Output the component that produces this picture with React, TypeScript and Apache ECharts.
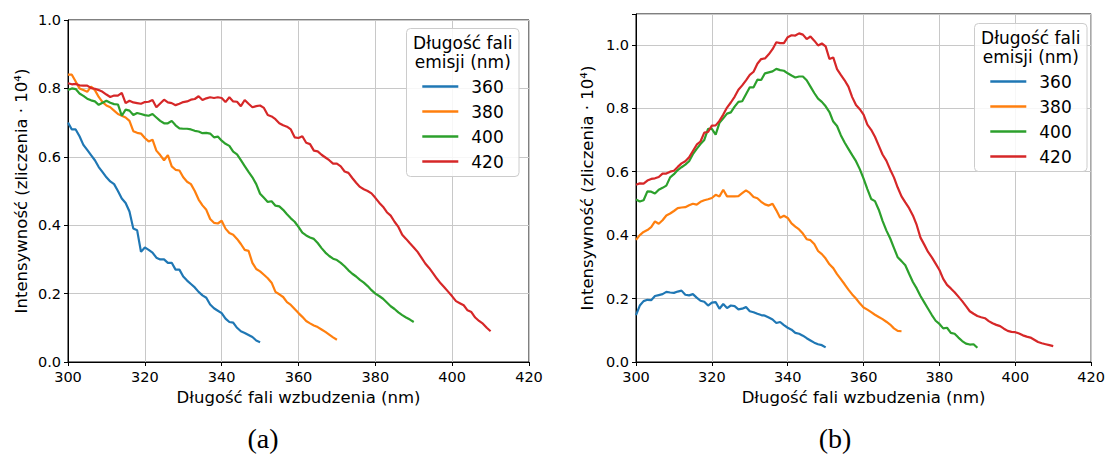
import React, { useEffect, useRef } from "react";
import * as echarts from "echarts";

// Excitation wavelength grid: data sampled every 1 nm starting at 300 nm
const X_START = 300;
const X_MIN = 300;
const X_MAX = 420;
const X_STEP = 20;

const emissionNames = ["360", "380", "400", "420"];
const seriesColors = ["#1f77b4", "#ff7f0e", "#2ca02c", "#d62728"];

// Panel (a)
const a360 = [
  0.70, 0.68, 0.68, 0.66, 0.635, 0.62, 0.605, 0.59, 0.57, 0.555,
  0.54, 0.528, 0.52, 0.50, 0.478, 0.465, 0.44, 0.39, 0.385, 0.322,
  0.335, 0.328, 0.32, 0.305, 0.30, 0.30, 0.29, 0.29, 0.27, 0.27,
  0.25, 0.238, 0.228, 0.218, 0.205, 0.195, 0.188, 0.168, 0.157, 0.15,
  0.143, 0.127, 0.117, 0.115, 0.10, 0.09, 0.085, 0.079, 0.073, 0.063,
  0.058,
];
const a380 = [
  0.84, 0.84, 0.82, 0.80, 0.795, 0.79, 0.805, 0.795, 0.775, 0.76,
  0.75, 0.745, 0.735, 0.725, 0.72, 0.715, 0.705, 0.675, 0.67, 0.668,
  0.655, 0.645, 0.65, 0.618, 0.605, 0.59, 0.605, 0.572, 0.562, 0.56,
  0.54, 0.527, 0.52, 0.50, 0.475, 0.458, 0.445, 0.418, 0.407, 0.405,
  0.413, 0.39, 0.377, 0.372, 0.36, 0.345, 0.328, 0.325, 0.29, 0.272,
  0.265, 0.255, 0.245, 0.232, 0.205, 0.198, 0.19, 0.175, 0.167, 0.155,
  0.143, 0.132, 0.12, 0.113, 0.107, 0.102, 0.095, 0.088, 0.08, 0.072,
  0.065,
];
const a400 = [
  0.795, 0.80, 0.798, 0.785, 0.778, 0.77, 0.765, 0.762, 0.752, 0.758,
  0.764, 0.758, 0.754, 0.753, 0.72, 0.738, 0.735, 0.722, 0.728, 0.725,
  0.722, 0.72, 0.725, 0.715, 0.705, 0.698, 0.698, 0.705, 0.692, 0.683,
  0.682, 0.682, 0.68, 0.676, 0.674, 0.669, 0.67, 0.668, 0.657, 0.659,
  0.647, 0.638, 0.632, 0.615, 0.607, 0.59, 0.573, 0.556, 0.54, 0.52,
  0.492, 0.48, 0.468, 0.47, 0.457, 0.455, 0.445, 0.432, 0.42, 0.41,
  0.395, 0.378, 0.37, 0.364, 0.36, 0.348, 0.333, 0.32, 0.31, 0.302,
  0.298, 0.29, 0.28, 0.268, 0.258, 0.25, 0.24, 0.232, 0.222, 0.21,
  0.2, 0.193, 0.185, 0.174, 0.163, 0.155, 0.145, 0.137, 0.13, 0.124,
  0.117,
];
const a420 = [
  0.815, 0.812, 0.813, 0.809, 0.808, 0.808, 0.801, 0.799, 0.795, 0.79,
  0.782, 0.775, 0.779, 0.779, 0.787, 0.757, 0.764, 0.759, 0.757, 0.755,
  0.76, 0.761, 0.766, 0.745, 0.756, 0.767, 0.759, 0.757, 0.751, 0.755,
  0.76, 0.762, 0.767, 0.769, 0.777, 0.766, 0.771, 0.774, 0.772, 0.774,
  0.772, 0.76, 0.774, 0.762, 0.761, 0.748, 0.766, 0.755, 0.745, 0.748,
  0.75, 0.743, 0.722, 0.718, 0.71, 0.698, 0.692, 0.688, 0.68, 0.657,
  0.655, 0.66, 0.641, 0.637, 0.618, 0.616, 0.606, 0.598, 0.59, 0.58,
  0.58, 0.572, 0.557, 0.553, 0.538, 0.524, 0.512, 0.505, 0.5, 0.493,
  0.48, 0.466, 0.454, 0.438, 0.428, 0.41, 0.395, 0.372, 0.36, 0.347,
  0.335, 0.322, 0.305, 0.288, 0.275, 0.26, 0.244, 0.23, 0.218, 0.205,
  0.192, 0.178, 0.172, 0.166, 0.151, 0.146, 0.13, 0.12, 0.112, 0.1,
  0.09,
];

// Panel (b)
const b360 = [
  0.148, 0.178, 0.192, 0.196, 0.195, 0.208, 0.211, 0.214, 0.221, 0.219,
  0.218, 0.222, 0.225, 0.212, 0.21, 0.214, 0.203, 0.193, 0.19, 0.178,
  0.187, 0.189, 0.168, 0.183, 0.17, 0.178, 0.176, 0.166, 0.168, 0.173,
  0.16, 0.157, 0.152, 0.148, 0.146, 0.14, 0.134, 0.123, 0.126, 0.116,
  0.108, 0.102, 0.092, 0.089, 0.083, 0.075, 0.068, 0.061, 0.056, 0.053,
  0.046,
];
const b380 = [
  0.385, 0.40, 0.41, 0.416, 0.425, 0.443, 0.436, 0.447, 0.462, 0.468,
  0.476, 0.485, 0.487, 0.488, 0.494, 0.499, 0.496, 0.505, 0.51, 0.513,
  0.517, 0.527, 0.522, 0.543, 0.522, 0.522, 0.522, 0.523, 0.532, 0.541,
  0.533, 0.52, 0.516, 0.505, 0.497, 0.493, 0.499, 0.478, 0.455, 0.461,
  0.454, 0.437, 0.427, 0.418, 0.405, 0.387, 0.384, 0.372, 0.35, 0.34,
  0.326, 0.308, 0.296, 0.277, 0.261, 0.245, 0.228, 0.213, 0.2, 0.185,
  0.172, 0.165, 0.157, 0.149, 0.142, 0.135, 0.127, 0.118, 0.106, 0.098,
  0.097,
];
const b400 = [
  0.512, 0.506, 0.51, 0.538, 0.537, 0.531, 0.543, 0.549, 0.556, 0.582,
  0.592, 0.605, 0.614, 0.622, 0.633, 0.655, 0.672, 0.687, 0.7, 0.735,
  0.735, 0.717, 0.754, 0.768, 0.783, 0.787, 0.805, 0.82, 0.822, 0.844,
  0.866, 0.866, 0.89, 0.889, 0.91, 0.913, 0.916, 0.924, 0.92, 0.918,
  0.91, 0.903, 0.897, 0.9, 0.9, 0.888, 0.868, 0.848, 0.83, 0.82,
  0.806, 0.788, 0.758, 0.744, 0.715, 0.692, 0.672, 0.652, 0.633, 0.608,
  0.578, 0.545, 0.514, 0.507, 0.48, 0.445, 0.415, 0.39, 0.36, 0.33,
  0.318, 0.305, 0.278, 0.252, 0.232, 0.208, 0.188, 0.168, 0.148, 0.13,
  0.12, 0.106, 0.108, 0.092, 0.089, 0.077, 0.066, 0.058, 0.055, 0.056,
  0.045,
];
const b420 = [
  0.559, 0.563, 0.562, 0.572, 0.577, 0.579, 0.583, 0.594, 0.594, 0.6,
  0.603, 0.615, 0.626, 0.633, 0.645, 0.665, 0.685, 0.695, 0.723, 0.725,
  0.745, 0.746, 0.76, 0.78, 0.802, 0.818, 0.836, 0.858, 0.872, 0.888,
  0.905, 0.915, 0.94, 0.955, 0.957, 0.97, 0.986, 1.008, 1.005, 1.005,
  1.024, 1.03, 1.029, 1.036, 1.032, 1.018, 1.026, 1.013, 0.998, 1.004,
  0.995, 0.955, 0.96, 0.923, 0.905, 0.888, 0.868, 0.835, 0.81, 0.797,
  0.78, 0.748, 0.732, 0.71, 0.682, 0.654, 0.635, 0.607, 0.582, 0.55,
  0.522, 0.503, 0.485, 0.462, 0.432, 0.392, 0.37, 0.347, 0.33, 0.31,
  0.29, 0.262, 0.243, 0.232, 0.22, 0.206, 0.192, 0.176, 0.16, 0.152,
  0.145, 0.141, 0.138, 0.129, 0.122, 0.117, 0.113, 0.105, 0.098, 0.095,
  0.094, 0.09, 0.084, 0.08, 0.077, 0.07, 0.063, 0.059, 0.056, 0.053,
  0.05,
];

const panelA = [a360, a380, a400, a420];
const panelB = [b360, b380, b400, b420];

const X_LABEL = "Długość fali wzbudzenia (nm)";
const Y_LABEL = "Intensywność (zliczenia · 10⁴)";
const LEGEND_TITLE_1 = "Długość fali";
const LEGEND_TITLE_2 = "emisji (nm)";
const CAPTIONS = ["(a)", "(b)"];

const Y_MAX_A = 1.0;
const Y_MAX_B = 1.097;
const Y_STEP = 0.2;

const FONT = "DejaVu Sans";

function toPoints(vals: number[]) {
  return vals.map((v, i) => [X_START + i, v]);
}

export default function App() {
  const ref = useRef<HTMLDivElement>(null);

  useEffect(() => {
    if (!ref.current) return;
    const chart = echarts.init(ref.current, undefined, { renderer: "svg" });

    const grids = [
      { left: 68, top: 20, width: 461, height: 342 },
      { left: 636, top: 14, width: 459, height: 348 },
    ];
    const legendBoxes = [
      { x: 406.5, y: 28.5, w: 112.5, h: 148 },
      { x: 974.5, y: 23.5, w: 112.5, h: 148 },
    ];
    const yMaxes = [Y_MAX_A, Y_MAX_B];
    const yNameGaps = [38, 40];

    const xAxes = grids.map((_, gi) => ({
      type: "value",
      gridIndex: gi,
      min: X_MIN,
      max: X_MAX,
      interval: X_STEP,
      name: X_LABEL,
      nameLocation: "middle",
      nameGap: 26,
      nameTextStyle: { fontFamily: FONT, fontSize: 16.5, color: "#000" },
      axisLine: { show: true, lineStyle: { color: "#000", width: 1 } },
      axisTick: { show: true, inside: false, length: 4, lineStyle: { color: "#000", width: 1 } },
      axisLabel: { fontFamily: FONT, fontSize: 14.5, color: "#000", margin: 7 },
      splitLine: { show: true, lineStyle: { color: "#c8c8c8", width: 1 } },
    }));

    const yAxes = grids.map((_, gi) => ({
      type: "value",
      gridIndex: gi,
      min: 0,
      max: yMaxes[gi],
      interval: Y_STEP,
      name: Y_LABEL,
      nameLocation: "middle",
      nameRotate: 90,
      nameGap: yNameGaps[gi],
      nameTextStyle: { fontFamily: FONT, fontSize: 16.5, color: "#000" },
      axisLine: { show: true, lineStyle: { color: "#000", width: 1 } },
      axisTick: { show: true, inside: false, length: 4, lineStyle: { color: "#000", width: 1 } },
      axisLabel: {
        fontFamily: FONT,
        fontSize: 14.5,
        color: "#000",
        margin: 7,
        formatter: (v: number) => (Math.abs(v / Y_STEP - Math.round(v / Y_STEP)) < 1e-6 ? v.toFixed(1) : ""),
      },
      splitLine: { show: true, lineStyle: { color: "#c8c8c8", width: 1 } },
    }));

    const series: any[] = [];
    [panelA, panelB].forEach((panel, gi) => {
      panel.forEach((vals, si) => {
        series.push({
          type: "line",
          name: emissionNames[si],
          xAxisIndex: gi,
          yAxisIndex: gi,
          data: toPoints(vals),
          showSymbol: false,
          symbol: "none",
          lineStyle: { color: seriesColors[si], width: 2.2 },
          itemStyle: { color: seriesColors[si] },
          z: 2,
        });
      });
    });

    const legends = legendBoxes.map((b) => ({
      orient: "vertical",
      left: b.x + 15.8,
      top: b.y + 58 - 10,
      padding: 0,
      itemGap: 5,
      itemWidth: 36,
      itemHeight: 2.4,
      icon: "rect",
      selectedMode: false,
      data: emissionNames,
      textStyle: {
        fontFamily: FONT,
        fontSize: 17,
        color: "#000",
        lineHeight: 20,
        padding: [0, 0, 0, 8],
      },
      z: 6,
    }));

    const graphics: any[] = [];
    legendBoxes.forEach((b) => {
      graphics.push({
        type: "rect",
        shape: { x: b.x, y: b.y, width: b.w, height: b.h, r: 4 },
        style: { fill: "rgba(255,255,255,0.85)", stroke: "#cccccc", lineWidth: 1 },
        z: 5,
      });
      graphics.push({
        type: "text",
        x: b.x + b.w / 2,
        y: b.y + 14,
        style: {
          text: LEGEND_TITLE_1,
          fontFamily: FONT,
          fontSize: 17,
          fill: "#000",
          align: "center",
          verticalAlign: "middle",
        },
        z: 6,
      });
      graphics.push({
        type: "text",
        x: b.x + b.w / 2,
        y: b.y + 33,
        style: {
          text: LEGEND_TITLE_2,
          fontFamily: FONT,
          fontSize: 17,
          fill: "#000",
          align: "center",
          verticalAlign: "middle",
        },
        z: 6,
      });
    });
    const captionX = [263, 835];
    CAPTIONS.forEach((c, i) => {
      graphics.push({
        type: "text",
        x: captionX[i],
        y: 438,
        style: {
          text: c,
          fontFamily: "Liberation Serif",
          fontSize: 28,
          fill: "#000",
          align: "center",
          verticalAlign: "middle",
        },
        z: 6,
      });
    });

    chart.setOption({
      animation: false,
      backgroundColor: "#ffffff",
      grid: grids.map((g) => ({
        ...g,
        show: true,
        borderColor: "#000",
        borderWidth: 1,
        backgroundColor: "transparent",
        containLabel: false,
      })),
      xAxis: xAxes,
      yAxis: yAxes,
      legend: legends,
      series,
      graphic: graphics,
    });

    return () => chart.dispose();
  }, []);

  return (
    <div
      ref={ref}
      style={{ position: "absolute", left: 0, top: 0, width: 1108, height: 454 }}
    />
  );
}
